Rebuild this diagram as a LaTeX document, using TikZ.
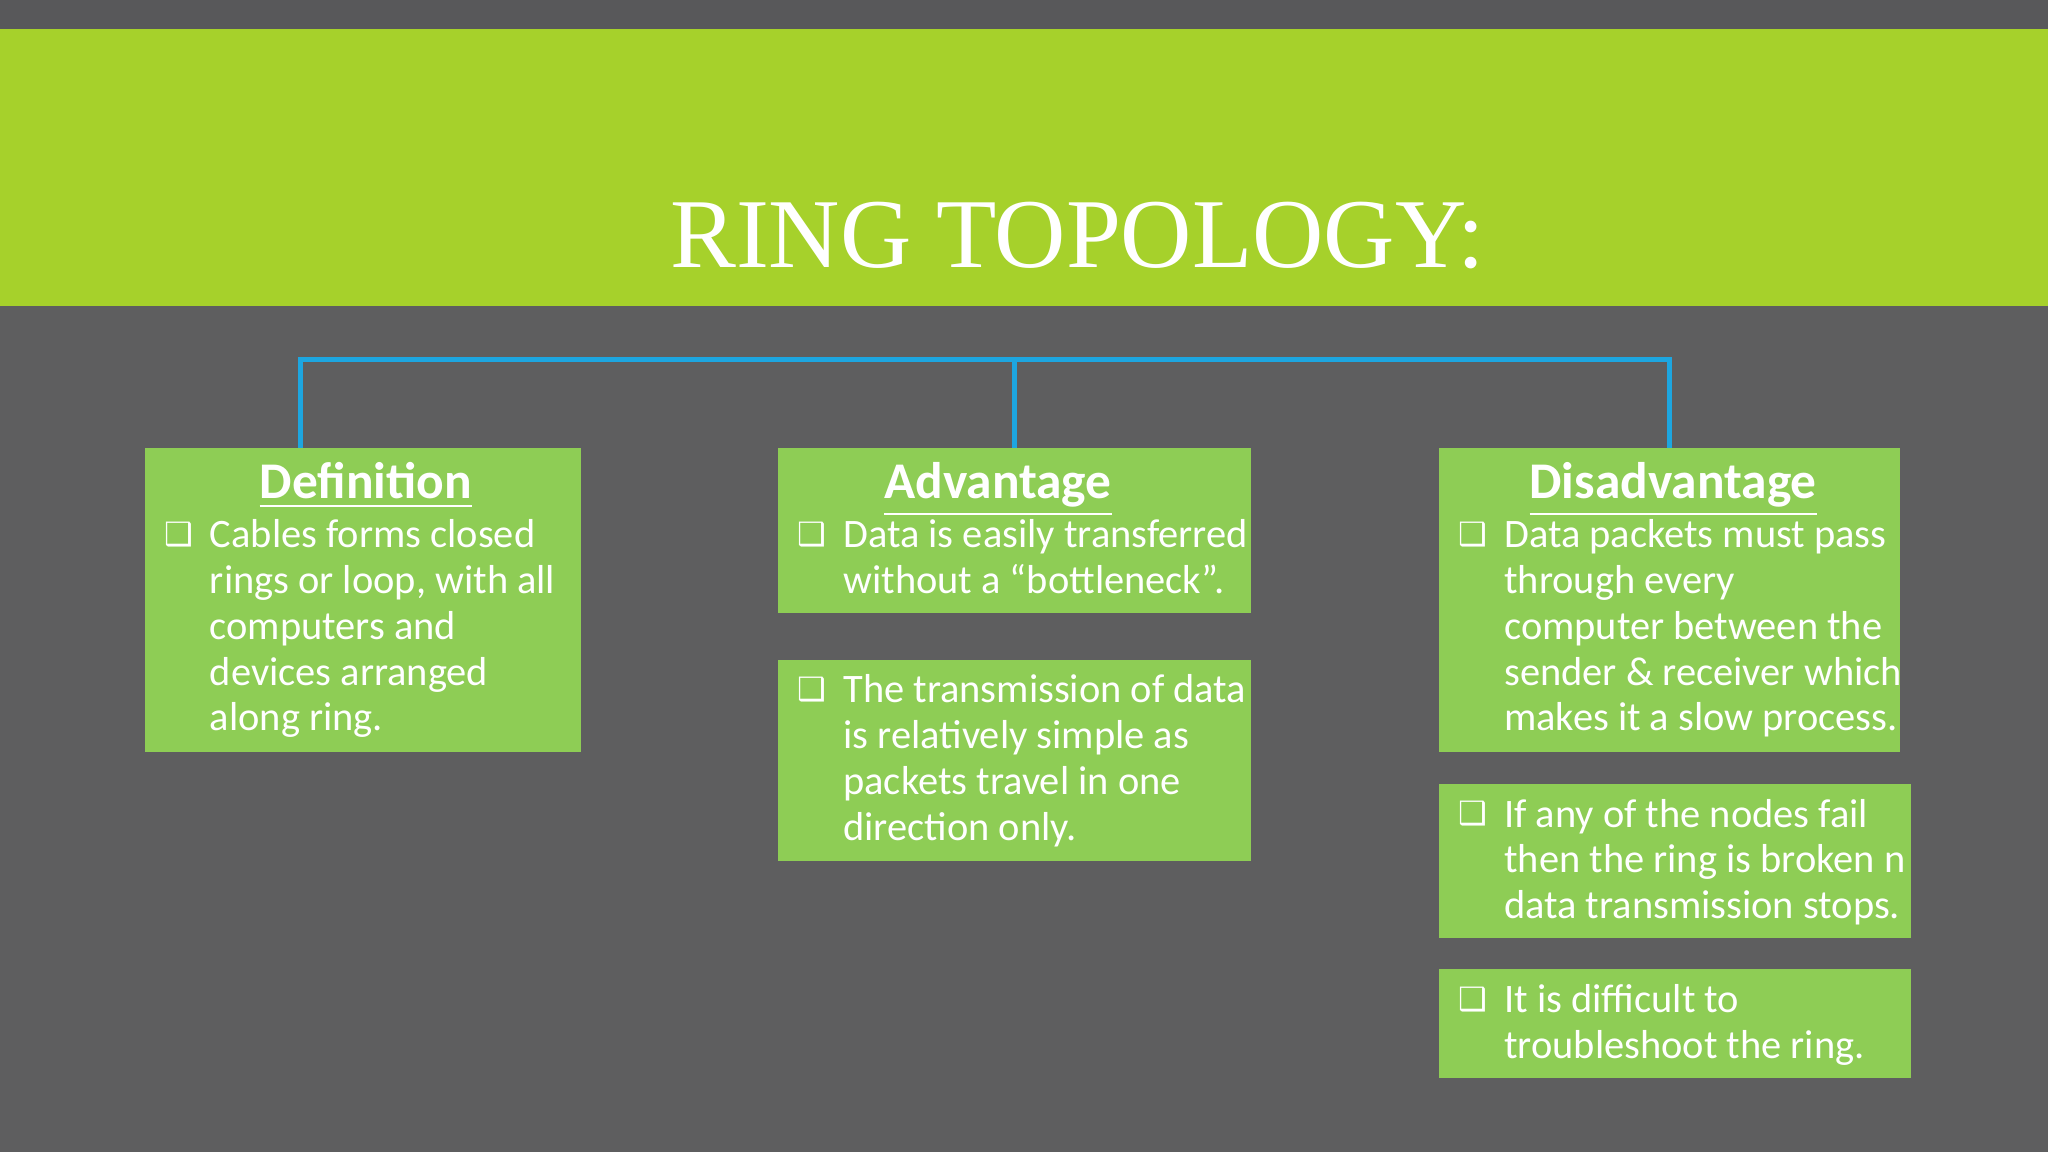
\documentclass[tikz,border=0pt]{standalone}
\usepackage{fontspec}
\setmainfont{Carlito}
\newfontfamily\titlefont{Liberation Serif}
\newfontfamily\symfont{DejaVu Sans}
\definecolor{bg}{HTML}{5E5E5F}
\definecolor{bgtop}{HTML}{58585A}
\definecolor{banner}{HTML}{A6D12B}
\definecolor{boxg}{HTML}{8ECD55}
\definecolor{bus}{HTML}{1DA6E0}
\begin{document}
\begin{tikzpicture}[x=0.01cm,y=-0.01cm,
  gbox/.style={fill=boxg,draw=none},
  head/.style={anchor=base,font=\fontsize{11.2pt}{12pt}\selectfont\bfseries,text=white,inner sep=0},
  body/.style={anchor=north west,align=left,inner sep=0,text=white,font=\fontsize{8.8pt}{9.98pt}\selectfont},
  bul/.style={anchor=north west,inner sep=0,text=white,font=\symfont\fontsize{7pt}{8pt}\selectfont},
  busline/.style={draw=bus,line width=1.1pt}]
\useasboundingbox (0,0) rectangle (1568,882);
\fill[bg] (0,0) rectangle (1568,882);
\fill[bgtop] (0,0) rectangle (1568,22);
\fill[banner] (0,22) rectangle (1568,234);
\node[anchor=base,text=white,inner sep=0,font=\titlefont\fontsize{21.5pt}{24pt}\selectfont] (title) at (825,205) {RING TOPOLOGY:};
% boxes
\fill[gbox] (111,343) rectangle (445,576);
\fill[gbox] (596,343) rectangle (958,469);
\fill[gbox] (596,505) rectangle (958,659);
\fill[gbox] (1102,343) rectangle (1455,576);
\fill[gbox] (1102,600) rectangle (1463,718);
\fill[gbox] (1102,742) rectangle (1463,825);
\coordinate (d) at (230,343); \coordinate (a) at (777,343); \coordinate (s) at (1278,343);
\coordinate (dt) at (230,275); \coordinate (at) at (777,275); \coordinate (st) at (1278,275);
\draw[busline] (d) -- (dt) -- (st) -- (s);
\draw[busline] (at) -- (a);
% headings
\node[head] (h1) at (280,382) {\underline{Definition}};
\node[head] (h2) at (764,382) {\underline{Advantage}};
\node[head] (h3) at (1281,382) {\underline{Disadvantage}};
% bullets and text
\node[bul] (b1) at (125,399) {❑};
\node[body] (t1) at (160,397) {Cables forms closed\\rings or loop, with all\\computers and\\devices arranged\\along ring.};
\node[bul] (b2) at (610,399) {❑};
\node[body] (t2) at (645,397) {Data is easily transferred\\without a “bottleneck”.};
\node[bul] (b3) at (610,518) {❑};
\node[body] (t3) at (645,516) {The transmission of data\\is relatively simple as\\packets travel in one\\direction only.};
\node[bul] (b4) at (1116,399) {❑};
\node[body] (t4) at (1151,397) {Data packets must pass\\through every\\computer between the\\sender \& receiver which\\makes it a slow process.};
\node[bul] (b5) at (1116,613) {❑};
\node[body] (t5) at (1151,611) {If any of the nodes fail\\then the ring is broken n\\data transmission stops.};
\node[bul] (b6) at (1116,755) {❑};
\node[body] (t6) at (1151,753) {It is difficult to\\troubleshoot the ring.};
\end{tikzpicture}
\end{document}
